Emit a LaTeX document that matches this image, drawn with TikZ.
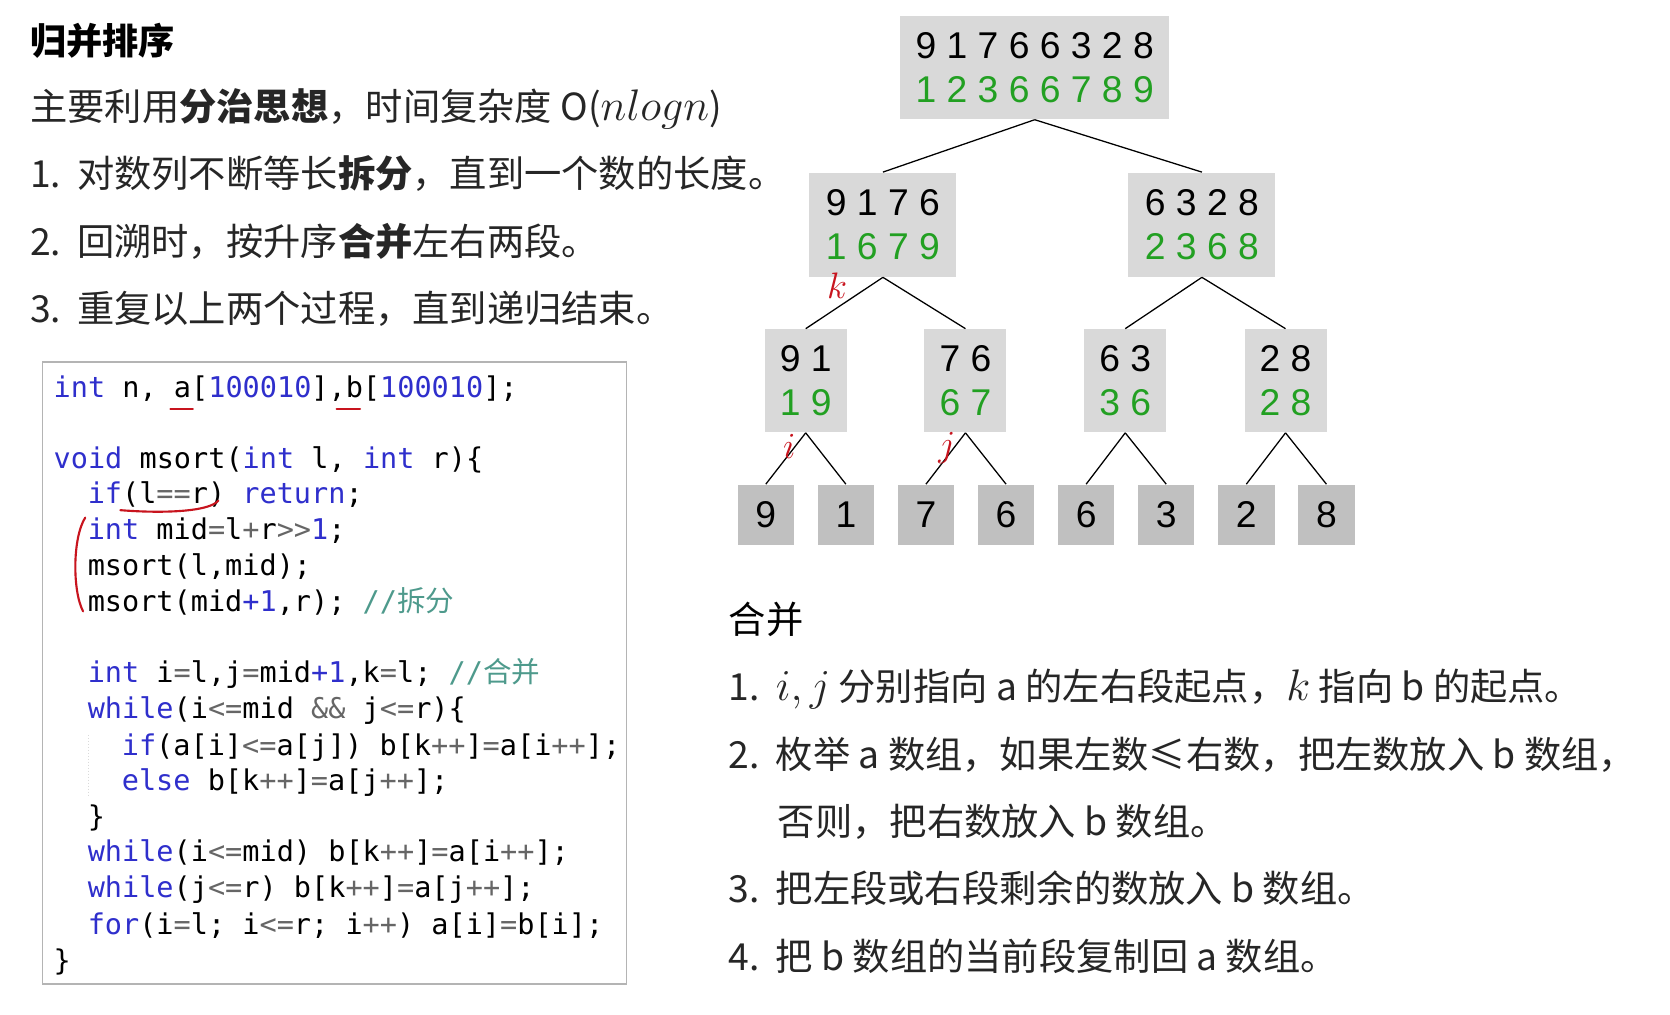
\documentclass[tikz,border=0pt]{standalone}
\usepackage{fontspec}
\usepackage{xcolor}
\usepackage{tikz}
\usetikzlibrary{positioning}
\setmainfont{Noto Sans CJK SC}
\setmonofont{DejaVu Sans Mono}
\newfontfamily\digits{Liberation Sans}
\newfontfamily\cjkmono{Noto Sans CJK SC}
\definecolor{cText}{HTML}{262626}
\definecolor{cGreen}{HTML}{22A022}
\definecolor{cRed}{HTML}{C8141E}
\definecolor{cBox}{HTML}{D9D9D9}
\definecolor{cLeaf}{HTML}{C0C0C0}
\definecolor{cKey}{HTML}{2F2FCC}
\definecolor{cOp}{HTML}{666666}
\definecolor{cCmt}{HTML}{4E9A8C}
\definecolor{cFrame}{HTML}{B4B4B4}
\newcommand{\kw}[1]{\textcolor{cKey}{#1}}
\newcommand{\op}[1]{\textcolor{cOp}{#1}}
\newcommand{\cmt}[1]{\textcolor{cCmt}{#1}}
\newcommand{\itemno}[1]{\makebox[22pt][l]{#1}}
\newcommand{\mth}[1]{{\fontsize{20}{20}\selectfont$#1$}}
\frenchspacing

\begin{document}
\begin{tikzpicture}[
    x=0.5pt, y=-0.5pt,
    txt/.style={anchor=base west, inner sep=0pt, text=cText,
                font=\fontsize{17.5}{20}\selectfont},
    heading/.style={txt, text=black},
    code/.style={anchor=base west, inner sep=0pt,
                 font=\ttfamily\fontsize{13.4}{16}\selectfont},
    numbox/.style={fill=cBox, inner sep=0pt, align=center,
                   font=\digits\fontsize{17.5}{21}\selectfont},
    leaf/.style={fill=cLeaf, inner sep=0pt, minimum width=26.5pt,
                 minimum height=28.5pt, font=\digits\fontsize{17.5}{21}\selectfont},
    edge/.style={line width=0.6pt},
    ptr/.style={inner sep=0pt, text=cRed, font=\fontsize{19}{19}\selectfont},
    redline/.style={draw=cRed, line width=1pt, line cap=round},
  ]
  \path[use as bounding box, fill=white] (0,0) rectangle (1568,953);

  % ── LEFT TEXT ──
  \node[heading, font=\fontsize{17}{20}\selectfont\bfseries] (title) at (28,51) {归并排序};
  \node[txt] (idea) at (28,113) {主要利用\textbf{分治思想}，时间复杂度 O(\mth{nlogn})};
  \node[txt] (s1) at (28,176) {\itemno{1.}对数列不断等长\textbf{拆分}，直到一个数的长度。};
  \node[txt] (s2) at (28,240) {\itemno{2.}回溯时，按升序\textbf{合并}左右两段。};
  \node[txt] (s3) at (28,303) {\itemno{3.}重复以上两个过程，直到递归结束。};

  % ── CODE ──
  \node[draw=cFrame, line width=0.6pt, minimum width=274pt, minimum height=292pt,
        inner sep=0pt] (codebox) at (314,632) {};
  \node[code] (c1) at (50,373) {\kw{int} n, a[\kw{100010}],b[\kw{100010}];};
  \node[code] (c2) at (50,440) {\kw{void} msort(\kw{int} l, \kw{int} r)\{};
  \node[code] (c3) at (82,473) {\kw{if}(l\op{==}r) \kw{return};};
  \node[code] (c4) at (82,507) {\kw{int} mid\op{=}l\op{+}r\op{>>}\kw{1};};
  \node[code] (c5) at (82,540) {msort(l,mid);};
  \node[code] (c6) at (82,574) {msort(mid\kw{+1},r); \cmt{//{\cjkmono 拆分}}};
  \node[code] (c7) at (82,641) {\kw{int} i\op{=}l,j\op{=}mid\kw{+1},k\op{=}l; \cmt{//{\cjkmono 合并}}};
  \node[code] (c8) at (82,675) {\kw{while}(i\op{<=}mid \op{\&\&} j\op{<=}r)\{};
  \node[code] (c9) at (114,709) {\kw{if}(a[i]\op{<=}a[j]) b[k\op{++}]\op{=}a[i\op{++}];};
  \node[code] (c10) at (114,742) {\kw{else} b[k\op{++}]\op{=}a[j\op{++}];};
  \node[code] (c11) at (82,776) {\}};
  \node[code] (c12) at (82,809) {\kw{while}(i\op{<=}mid) b[k\op{++}]\op{=}a[i\op{++}];};
  \node[code] (c13) at (82,843) {\kw{while}(j\op{<=}r) b[k\op{++}]\op{=}a[j\op{++}];};
  \node[code] (c14) at (82,877) {\kw{for}(i\op{=}l; i\op{<=}r; i\op{++}) a[i]\op{=}b[i];};
  \node[code] (c15) at (50,911) {\}};
  \draw[cFrame!50, line width=0.4pt, densely dotted] (83,690) -- (83,748);

  % red pen marks
  \draw[redline] (160,384) -- (181,384);
  \draw[redline] (316,384) -- (338,384);
  \draw[redline] (113,479) .. controls (150,482) and (196,481) .. (205,470);
  \draw[redline] (80,486) .. controls (68,505) and (68,555) .. (78,574);

  % ── TREE ──
  \node[numbox, minimum width=126.5pt, minimum height=48.5pt] (all) at (971.5,63.5)
    {9 1 7 6 6 3 2 8\\\textcolor{cGreen}{1 2 3 6 6 7 8 9}};
  \node[numbox, minimum width=69pt, minimum height=49pt] (L) at (829,211)
    {9 1 7 6\\\textcolor{cGreen}{1 6 7 9}};
  \node[numbox, minimum width=69pt, minimum height=49pt] (R) at (1128.5,211)
    {6 3 2 8\\\textcolor{cGreen}{2 3 6 8}};
  \draw[edge] (all.south) -- (L.north);
  \draw[edge] (all.south) -- (R.north);

  \node[numbox, minimum width=38.5pt, minimum height=48.5pt] (LL) at (756.5,357.5)
    {9 1\\\textcolor{cGreen}{1 9}};
  \node[numbox, minimum width=38.5pt, minimum height=48.5pt] (LR) at (906.5,357.5)
    {7 6\\\textcolor{cGreen}{6 7}};
  \node[numbox, minimum width=38.5pt, minimum height=48.5pt] (RL) at (1056.5,357.5)
    {6 3\\\textcolor{cGreen}{3 6}};
  \node[numbox, minimum width=38.5pt, minimum height=48.5pt] (RR) at (1207,357.5)
    {2 8\\\textcolor{cGreen}{2 8}};
  \draw[edge] (L.south) -- (LL.north);
  \draw[edge] (L.south) -- (LR.north);
  \draw[edge] (R.south) -- (RL.north);
  \draw[edge] (R.south) -- (RR.north);

  % leaves
  \node[leaf] (l1) at (719,483.5) {9};
  \node[leaf, right=10.7pt of l1] (l2) {1};
  \node[leaf, right=10.7pt of l2] (l3) {7};
  \node[leaf, right=10.7pt of l3] (l4) {6};
  \node[leaf, right=10.7pt of l4] (l5) {6};
  \node[leaf, right=10.7pt of l5] (l6) {3};
  \node[leaf, right=10.7pt of l6] (l7) {2};
  \node[leaf, right=10.7pt of l7] (l8) {8};
  \draw[edge] (LL.south) -- (l1.north);
  \draw[edge] (LL.south) -- (l2.north);
  \draw[edge] (LR.south) -- (l3.north);
  \draw[edge] (LR.south) -- (l4.north);
  \draw[edge] (RL.south) -- (l5.north);
  \draw[edge] (RL.south) -- (l6.north);
  \draw[edge] (RR.south) -- (l7.north);
  \draw[edge] (RR.south) -- (l8.north);

  % pointers
  \node[ptr] (pk) at (786,268) {$k$};
  \node[ptr] (pi) at (741,419) {$i$};
  \node[ptr] (pj) at (889,421) {$j$};

  % ── MERGE TEXT ──
  \node[heading] (merge) at (684,595) {合并};
  \node[txt] (m1) at (684,658) {\itemno{1.}\mth{i,j} 分别指向 a 的左右段起点，\mth{k} 指向 b 的起点。};
  \node[txt] (m2) at (684,722) {\itemno{2.}枚举 a 数组，如果左数≤右数，把左数放入 b 数组，};
  \node[txt] (m2b) at (730,784) {否则，把右数放入 b 数组。};
  \node[txt] (m3) at (684,847) {\itemno{3.}把左段或右段剩余的数放入 b 数组。};
  \node[txt] (m4) at (684,911) {\itemno{4.}把 b 数组的当前段复制回 a 数组。};
\end{tikzpicture}
\end{document}
